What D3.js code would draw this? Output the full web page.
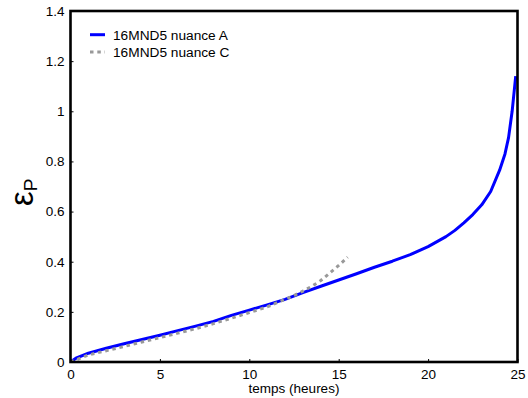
<!DOCTYPE html>
<html>
<head>
<meta charset="utf-8">
<script src="https://cdn.jsdelivr.net/npm/d3@7"></script>
<style>
  html, body { margin: 0; padding: 0; background: #fff; }
  svg { display: block; }
  text { font-family: "Liberation Sans", Arial, Helvetica, sans-serif; fill: #000; }
</style>
</head>
<body>
<script>
// ---- data ----
const seriesNames = ["16MND5 nuance A", "16MND5 nuance C"];
const tA = [0, 0.3, 1, 2, 3, 4, 5, 6, 7, 8, 9, 10, 11, 12, 13, 14, 15, 16, 17, 18, 19, 20, 21, 21.5, 22, 22.5, 23, 23.5, 24, 24.3, 24.5, 24.7, 24.9];
const epsA = [0, 0.015, 0.035, 0.055, 0.073, 0.09, 0.107, 0.125, 0.143, 0.162, 0.186, 0.207, 0.228, 0.25, 0.277, 0.302, 0.327, 0.352, 0.378, 0.402, 0.428, 0.46, 0.5, 0.525, 0.555, 0.588, 0.627, 0.68, 0.765, 0.83, 0.895, 1.0, 1.14];
const tC = [0, 1, 2, 3, 4, 5, 6, 7, 8, 9, 10, 11, 12, 12.5, 13, 13.5, 14, 14.5, 15, 15.5];
const epsC = [0, 0.028, 0.045, 0.062, 0.08, 0.097, 0.115, 0.133, 0.153, 0.175, 0.197, 0.22, 0.25, 0.265, 0.283, 0.302, 0.325, 0.355, 0.385, 0.418];
const xTicks = [0, 5, 10, 15, 20, 25];
const xTickLabels = ["0", "5", "10", "15", "20", "25"];
const yTicks = [0, 0.2, 0.4, 0.6, 0.8, 1, 1.2, 1.4];
const yTickLabels = ["0", "0.2", "0.4", "0.6", "0.8", "1", "1.2", "1.4"];
const xLabel = "temps (heures)";

// ---- layout ----
const W = 528, H = 398;
const svg = d3.select("body").append("svg").attr("width", W).attr("height", H);
const x = d3.scaleLinear().domain([0, 25]).range([70.5, 517.5]);
const y = d3.scaleLinear().domain([0, 1.4]).range([362, 11]);

// lines
const line = d3.line().x(d => x(d[0])).y(d => y(d[1]));
const dataA = tA.map((t, i) => [t, epsA[i]]);
const dataC = tC.map((t, i) => [t, epsC[i]]);

svg.append("clipPath").attr("id", "clip").append("rect")
  .attr("x", x(0)).attr("y", y(1.4)).attr("width", x(25) - x(0)).attr("height", y(0) - y(1.4));

const g = svg.append("g").attr("clip-path", "url(#clip)");
g.append("path").datum(dataA).attr("d", line)
  .attr("fill", "none").attr("stroke", "#0000ff").attr("stroke-width", 3)
  .attr("stroke-linejoin", "round");
g.append("path").datum(dataC).attr("d", line)
  .attr("fill", "none").attr("stroke", "#999999").attr("stroke-width", 3)
  .attr("stroke-dasharray", "3.5,3.8");

// axes (ticks inside)
const xAxis = d3.axisBottom(x).tickValues(xTicks).tickSize(-3).tickPadding(7)
  .tickFormat((d, i) => xTickLabels[i]);
const gx = svg.append("g").attr("transform", `translate(0,${y(0)})`).call(xAxis);
const yAxis = d3.axisLeft(y).tickValues(yTicks).tickSize(-3).tickPadding(6)
  .tickFormat((d, i) => yTickLabels[i]);
const gy = svg.append("g").attr("transform", `translate(${x(0)},0)`).call(yAxis);
[gx, gy].forEach(a => {
  a.select(".domain").remove();
  a.selectAll("line").attr("stroke", "#000").attr("stroke-width", 1);
  a.selectAll("text").style("font-size", "13.5px")
    .style("font-family", '"Liberation Sans", Arial, Helvetica, sans-serif');
});
gx.selectAll("text").attr("dy", "0.71em");

// frame
svg.append("rect")
  .attr("x", x(0)).attr("y", y(1.4))
  .attr("width", x(25) - x(0)).attr("height", y(0) - y(1.4))
  .attr("fill", "none").attr("stroke", "#000").attr("stroke-width", 2.6);

// axis labels
svg.append("text").attr("x", (x(0) + x(25)) / 2).attr("y", 393)
  .attr("text-anchor", "middle").style("font-size", "13.5px").text(xLabel);

const yl = svg.append("text").attr("transform", "translate(33,206) rotate(-90)")
  .attr("text-anchor", "start");
yl.append("tspan").style("font-size", "33px").text("ε");
yl.append("tspan").style("font-size", "19px").attr("dy", 4).text("P");

// legend
const legend = svg.append("g");
const legendStyles = [
  { stroke: "#0000ff", dash: null },
  { stroke: "#999999", dash: "3.5,3.8" }
];
seriesNames.forEach((name, i) => {
  const ly = 34.7 + i * 17.3;
  legend.append("line").attr("x1", 90).attr("x2", 105).attr("y1", ly).attr("y2", ly)
    .attr("stroke", legendStyles[i].stroke).attr("stroke-width", 3)
    .attr("stroke-dasharray", legendStyles[i].dash);
  legend.append("text").attr("x", 113).attr("y", ly + 5)
    .style("font-size", "13.7px").text(name);
});
</script>
</body>
</html>
